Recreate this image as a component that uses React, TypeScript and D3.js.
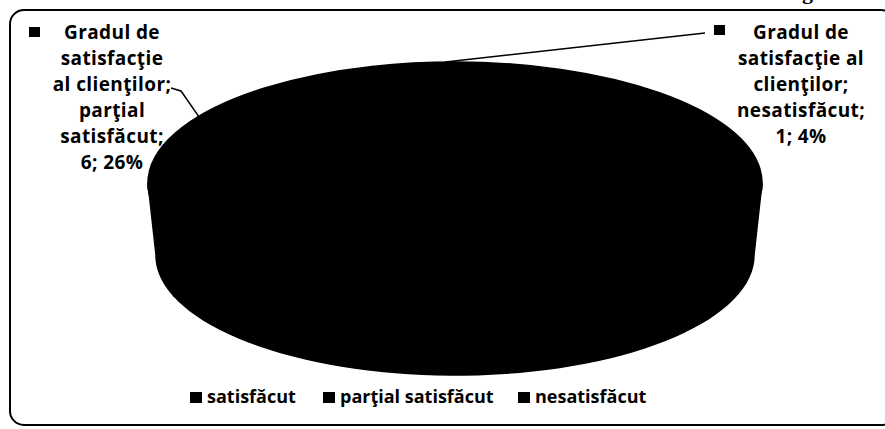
import React, { useRef, useEffect } from "react";
import * as d3 from "d3";

// data
const seriesName = "Gradul de satisfacţie al clienţilor";
const categories = ["satisfăcut", "parţial satisfăcut", "nesatisfăcut"];
const values = [16, 6, 1];
// wrapped data-label text as printed (label of the big slice is lost in the black)
const labelLines = [
  [],
  ["Gradul de", "satisfacţie", "al clienţilor;", "parţial", "satisfăcut;"],
  ["Gradul de", "satisfacţie al", "clienţilor;", "nesatisfăcut;"],
];

const W = 885;
const H = 429;
const FONT = "'Open Sans', 'DejaVu Sans', sans-serif";

function App() {
  const svgRef = useRef<SVGSVGElement>(null);

  useEffect(() => {
    const svg = d3.select(svgRef.current);
    svg.selectAll("*").remove();

    // frame
    svg
      .append("rect")
      .attr("x", 10)
      .attr("y", 10)
      .attr("width", 885)
      .attr("height", 415)
      .attr("rx", 14)
      .attr("fill", "#fff")
      .attr("stroke", "#000")
      .attr("stroke-width", 2);

    // clipped heading from the page above
    svg
      .append("text")
      .attr("x", 802)
      .attr("y", -1)
      .attr("font-family", "'Liberation Serif', serif")
      .attr("font-weight", "bold")
      .attr("font-size", 22)
      .text("g");

    // 3D pie geometry
    const cx = 455;
    const cy = 183;
    const rx = 307;
    const ry = 121;
    const depth = 72;
    const rxb = 299;
    const ryb = 120;

    const total = d3.sum(values);
    const pie = d3
      .pie<number>()
      .sort(null)
      .value((d) => d);
    const arcs = pie(values);

    const top = (a: number): [number, number] => [cx + rx * Math.sin(a), cy - ry * Math.cos(a)];
    const bot = (a: number): [number, number] => [
      cx + rxb * Math.sin(a),
      cy + depth - ryb * Math.cos(a),
    ];
    const line = d3.line();

    const g = svg.append("g");

    // side walls (front half only)
    arcs.forEach((d) => {
      const s = Math.max(d.startAngle, Math.PI / 2);
      const e = Math.min(d.endAngle, (3 * Math.PI) / 2);
      if (e <= s) return;
      const steps = d3.range(0, 61).map((i) => s + ((e - s) * i) / 60);
      const pts = steps.map(top).concat(steps.slice().reverse().map(bot));
      g.append("path")
        .attr("d", line(pts) + "Z")
        .attr("fill", "#000")
        .attr("stroke", "#000")
        .attr("stroke-width", 1.5);
    });

    // top faces
    arcs.forEach((d) => {
      const p0 = top(d.startAngle);
      const p1 = top(d.endAngle);
      const large = d.endAngle - d.startAngle > Math.PI ? 1 : 0;
      g.append("path")
        .attr(
          "d",
          `M${cx},${cy}L${p0[0]},${p0[1]}A${rx},${ry} 0 ${large} 1 ${p1[0]},${p1[1]}Z`
        )
        .attr("fill", "#000")
        .attr("stroke", "#000")
        .attr("stroke-width", 1.5);
    });

    // data labels
    const labelPos = [null, { x: 112, y: 39, mx: 29, my: 27 }, { x: 801, y: 39, mx: 714, my: 25 }];
    const leaderOffset = (6 * Math.PI) / 180;
    arcs.forEach((d, i) => {
      const pos = labelPos[i];
      if (!pos) return;
      const pct = Math.round((values[i] / total) * 100);
      const lines = labelLines[i].concat([`${values[i]}; ${pct}%`]);
      const lg = svg.append("g").attr("aria-label", `${seriesName}; ${categories[i]}`);
      lg.append("rect")
        .attr("x", pos.mx)
        .attr("y", pos.my)
        .attr("width", 11)
        .attr("height", 10)
        .attr("fill", "#000");
      lg.selectAll("text.l")
        .data(lines)
        .join("text")
        .attr("x", pos.x)
        .attr("y", (_, j) => pos.y + j * 26)
        .attr("text-anchor", "middle")
        .attr("font-family", FONT)
        .attr("font-weight", 700)
        .attr("font-size", 19)
        .attr("letter-spacing", 0.4)
        .text((t) => t);

      const mid = (d.startAngle + d.endAngle) / 2 + leaderOffset;
      const edge = top(mid);
      const pts: [number, number][] =
        i === 1
          ? [
              [171, 88],
              [181, 91],
              edge,
            ]
          : [[705, 33], edge];
      svg
        .append("path")
        .attr("d", line(pts))
        .attr("fill", "none")
        .attr("stroke", "#000")
        .attr("stroke-width", 1.5);
    });

    // legend
    const legendX = [190, 323, 518];
    const lgd = svg.append("g");
    categories.forEach((c, i) => {
      lgd
        .append("rect")
        .attr("x", legendX[i])
        .attr("y", 392)
        .attr("width", 12)
        .attr("height", 11)
        .attr("fill", "#000");
      lgd
        .append("text")
        .attr("x", legendX[i] + 17)
        .attr("y", 403)
        .attr("font-family", FONT)
        .attr("font-weight", 700)
        .attr("font-size", 18)
        .text(c);
    });
  }, []);

  return (
    <svg
      ref={svgRef}
      width={W}
      height={H}
      style={{ position: "absolute", left: 0, top: 0, background: "#fff" }}
    />
  );
}

export default App;
